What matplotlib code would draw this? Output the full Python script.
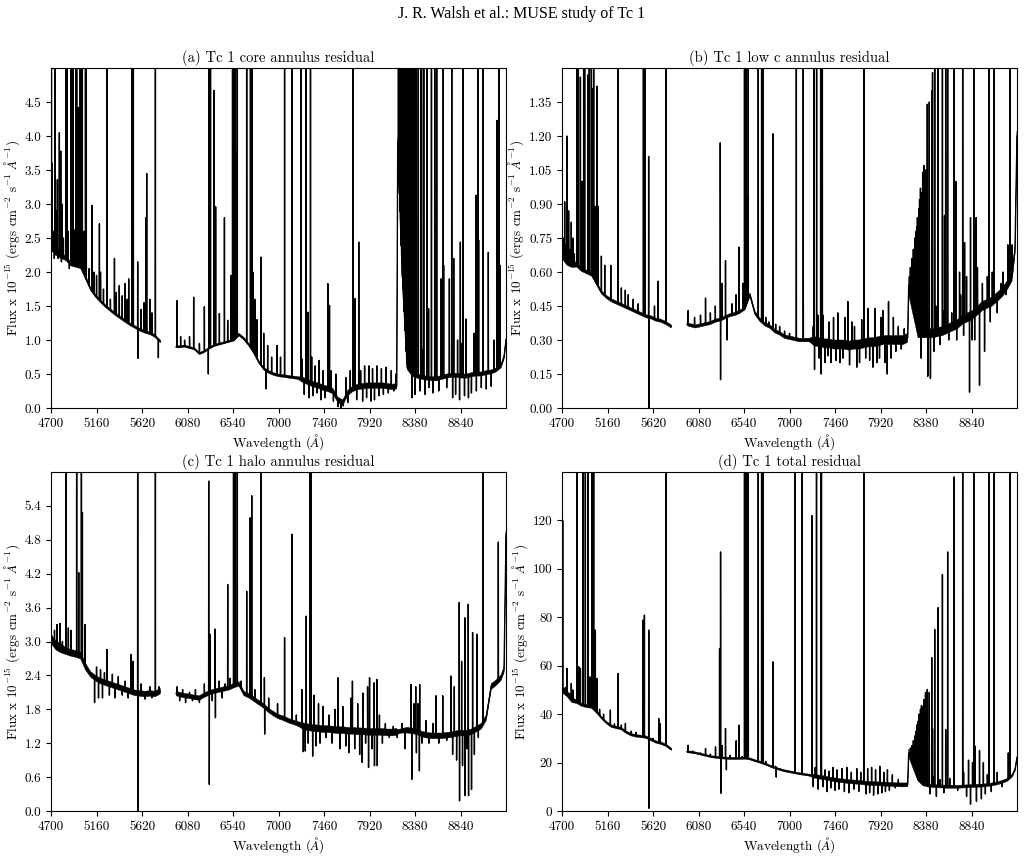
import numpy as np
import matplotlib
matplotlib.use("Agg")
import matplotlib.pyplot as plt

nan = np.nan

# ---------------- data ----------------
CONT_WAVE = [4700, 4750, 4800, 4850, 4900, 4950, 5000, 5050, 5100, 5150, 5200, 5250,
             5300, 5350, 5400, 5450, 5500, 5550, 5600, 5650, 5700, 5750, 5805,
             5885,
             5965, 6000, 6050, 6100, 6150, 6200, 6250, 6300, 6350, 6400, 6450, 6500,
             6550, 6600, 6650, 6700, 6750, 6800, 6850, 6900, 6950, 7000, 7050, 7100,
             7150, 7200, 7250, 7300, 7350, 7400, 7450, 7500, 7550, 7600, 7650, 7700,
             7750, 7800, 7850, 7900, 7950, 8000, 8050, 8100, 8150, 8195, 8205, 8250,
             8300, 8350, 8400, 8450, 8500, 8550, 8600, 8650, 8700, 8750, 8800, 8850,
             8900, 8950, 9000, 9050, 9100, 9150, 9200, 9250, 9280, 9300]

CONT_A = [2.45, 2.30, 2.25, 2.20, 2.12, 2.10, 2.08, 1.92, 1.75, 1.65, 1.57, 1.50,
          1.44, 1.38, 1.33, 1.28, 1.23, 1.19, 1.15, 1.12, 1.10, 1.06, 0.98,
          nan,
          0.90, 0.90, 0.91, 0.89, 0.87, 0.80, 0.83, 0.88, 0.92, 0.94, 0.96, 0.98,
          1.00, 1.08, 1.02, 0.93, 0.82, 0.68, 0.58, 0.53, 0.50, 0.48, 0.47, 0.46,
          0.45, 0.44, 0.41, 0.38, 0.35, 0.33, 0.30, 0.28, 0.25, 0.12, 0.08, 0.22,
          0.28, 0.31, 0.32, 0.33, 0.33, 0.33, 0.33, 0.32, 0.31, 0.32, 3.90, 2.00,
          0.60, 0.50, 0.47, 0.45, 0.44, 0.43, 0.43, 0.45, 0.47, 0.48, 0.48, 0.47,
          0.47, 0.49, 0.50, 0.50, 0.52, 0.53, 0.56, 0.62, 0.75, 1.00]

CONT_B = [0.68, 0.65, 0.64, 0.63, 0.61, 0.60, 0.59, 0.55, 0.51, 0.49, 0.475, 0.465,
          0.455, 0.445, 0.435, 0.425, 0.415, 0.405, 0.40, 0.39, 0.385, 0.375, 0.36,
          nan,
          0.37, 0.365, 0.36, 0.365, 0.37, 0.375, 0.385, 0.39, 0.40, 0.41, 0.415, 0.425,
          0.44, 0.50, 0.42, 0.39, 0.37, 0.36, 0.34, 0.33, 0.315, 0.31, 0.305, 0.30,
          0.30, 0.30, 0.295, 0.29, 0.285, 0.285, 0.28, 0.28, 0.28, 0.275, 0.28, 0.28,
          0.285, 0.29, 0.29, 0.295, 0.30, 0.30, 0.30, 0.30, 0.30, 0.31, 0.54, 0.45,
          0.33, 0.33, 0.33, 0.33, 0.335, 0.34, 0.35, 0.36, 0.37, 0.39, 0.40, 0.41,
          0.43, 0.45, 0.46, 0.47, 0.49, 0.51, 0.54, 0.58, 0.70, 1.20]

CONT_C = [3.05, 2.93, 2.88, 2.83, 2.80, 2.78, 2.75, 2.55, 2.42, 2.35, 2.30, 2.27,
          2.24, 2.21, 2.18, 2.15, 2.12, 2.09, 2.08, 2.07, 2.08, 2.07, 2.12,
          nan,
          2.08, 2.06, 2.04, 2.03, 2.01, 2.00, 2.05, 2.09, 2.12, 2.14, 2.16, 2.18,
          2.22, 2.25, 2.08, 2.04, 1.98, 1.92, 1.86, 1.78, 1.72, 1.67, 1.64, 1.60,
          1.57, 1.54, 1.50, 1.48, 1.47, 1.46, 1.45, 1.45, 1.44, 1.43, 1.43, 1.42,
          1.42, 1.41, 1.41, 1.40, 1.40, 1.40, 1.40, 1.39, 1.39, 1.40, 1.40, 1.42,
          1.43, 1.42, 1.40, 1.36, 1.34, 1.33, 1.33, 1.33, 1.34, 1.35, 1.37, 1.38,
          1.38, 1.40, 1.45, 1.50, 1.65, 2.20, 2.27, 2.36, 2.50, 4.90]

CONT_D = [50.0, 48.5, 46.0, 45.0, 43.8, 43.3, 43.0, 41.0, 38.5, 36.5, 35.0, 34.5,
          34.0, 32.5, 31.5, 31.0, 30.8, 30.5, 29.5, 28.5, 28.0, 27.2, 25.5,
          nan,
          24.5, 24.3, 24.0, 23.5, 23.0, 22.5, 22.2, 22.0, 21.8, 21.7, 21.7, 21.7,
          21.8, 21.5, 20.8, 20.2, 19.5, 18.6, 17.8, 17.2, 16.6, 16.2, 15.8, 15.4,
          15.1, 14.8, 14.4, 14.0, 13.7, 13.3, 12.9, 12.6, 12.4, 12.1, 12.0, 11.8,
          11.6, 11.4, 11.3, 11.2, 11.1, 11.0, 10.9, 10.8, 10.8, 10.8, 24.0, 19.0,
          13.0, 11.0, 10.5, 10.3, 10.2, 10.1, 10.0, 10.0, 10.0, 10.1, 10.2, 10.3,
          10.4, 10.5, 10.7, 11.0, 11.4, 12.0, 12.8, 14.5, 17.0, 22.0]

# half-width of the noise band around the continuum, per wavelength segment
NOISE_EDGES = [4700, 4850, 5100, 5806, 5964, 6600, 7250, 8200, 8300, 9301]
NOISE_A = [0.05, 0.03, 0.02, nan, 0.015, 0.02, 0.04, 0.08, 0.03]
NOISE_B = [0.02, 0.008, 0.007, nan, 0.007, 0.008, 0.02, 0.04, 0.02]
NOISE_C = [0.08, 0.06, 0.05, nan, 0.04, 0.04, 0.06, 0.04, 0.05]
NOISE_D = [1.2, 0.6, 0.5, nan, 0.4, 0.4, 0.8, 1.5, 0.6]

# emission lines / sky residuals: (wavelength, flux at the extreme of the feature)
FEAT_A = [(4704, 9), (4712, 3.6), (4720, 2.3), (4727, 2.6), (4733, 2.2), (4740, 9),
          (4748, 2.25), (4756, 2.9), (4764, 3.36), (4772, 2.2), (4784, 4.05), (4791, 2.6),
          (4798, 3.78), (4805, 2.15), (4811, 3.0), (4825, 2.5), (4850, 9), (4861, 9),
          (4872, 2.6), (4885, 2.05), (4902, 9), (4922, 9), (4935, 2.62), (4955, 9),
          (4959, 9), (4977, 4.42), (4995, 9), (5007, 9), (5016, 9), (5030, 2.6), (5048, 9),
          (5056, 9), (5085, 2.05), (5115, 2.98), (5135, 2.0), (5160, 1.95), (5189, 2.71),
          (5200, 2.0), (5230, 1.75), (5266, 9), (5300, 1.6), (5341, 2.2), (5360, 1.7),
          (5390, 1.8), (5420, 1.65), (5448, 1.83), (5470, 1.6), (5485, 1.9), (5518, 9),
          (5532, 9), (5576, 2.15), (5578, 0.73), (5610, 1.45), (5640, 1.55), (5660, 2.8),
          (5667, 3.45), (5700, 1.6), (5720, 1.4), (5755, 9), (5785, 0.74),
          (5974, 1.58), (6010, 1.05), (6050, 1.0), (6100, 1.05), (6142, 1.63), (6200, 0.95),
          (6250, 1.49), (6290, 0.50), (6296, 9), (6300, 9), (6312, 9), (6347, 4.67),
          (6364, 2.96), (6402, 1.39), (6453, 2.8), (6486, 1.29), (6520, 1.95), (6535, 9),
          (6548, 9), (6563, 9), (6572, 3.74), (6583, 9), (6678, 9), (6716, 9), (6731, 9),
          (6740, 2.0), (6760, 1.6), (6783, 1.3), (6823, 2.22), (6850, 1.1), (6873, 0.28),
          (6890, 0.92), (6930, 0.75), (6985, 0.92), (7020, 0.75),
          (7061, 9), (7135, 9), (7229, 9), (7240, 0.72), (7260, 0.20), (7279, 9),
          (7296, 1.41), (7310, 0.15), (7323, 9), (7335, 0.75), (7350, 0.18), (7370, 0.62),
          (7390, 0.22), (7410, 0.70), (7430, 0.12), (7450, 0.55), (7470, 0.15), (7498, 1.83),
          (7515, 1.51), (7530, 0.55), (7555, 0.10), (7580, 0.50), (7600, 0.02), (7630, 0.0),
          (7655, 0.03), (7680, 0.45), (7700, 0.08), (7725, 0.55), (7751, 9), (7774, 1.61),
          (7790, 0.12), (7811, 2.44), (7830, 0.55), (7850, 0.10), (7870, 0.62), (7890, 0.15),
          (7913, 0.62), (7935, 0.10), (7950, 0.58), (7970, 0.12), (7993, 0.62), (8015, 0.18),
          (8040, 0.58), (8060, 0.20), (8085, 0.60), (8110, 0.22), (8140, 0.55), (8165, 0.25),
          (8185, 0.50),
          (8212, 9), (8218, 9), (8224, 9), (8230, 9), (8236, 9), (8242, 9), (8248, 9),
          (8254, 9), (8260, 9), (8266, 9), (8272, 9), (8277, 9), (8282, 9), (8287, 9),
          (8293, 9), (8299, 9), (8307, 9), (8315, 9), (8324, 9), (8334, 9), (8346, 9),
          (8359, 9), (8375, 9), (8393, 9), (8413, 9), (8438, 9), (8446, 9), (8468, 9),
          (8503, 9), (8517, 1.46), (8546, 9), (8579, 9), (8585, 1.31), (8599, 9),
          (8642, 1.9), (8665, 9), (8669, 2.1), (8727, 1.9), (8751, 9), (8771, 2.2),
          (8838, 2.44), (8863, 9), (8895, 1.31), (8996, 3.13), (9015, 9), (9023, 2.47),
          (9069, 9), (9121, 2.29), (9208, 4.23), (9229, 9), (9240, 2.1),
          (8350, 0.15), (8380, 0.20), (8430, 0.25), (8455, 0.85), (8480, 0.20), (8520, 0.30),
          (8560, 0.22), (8620, 0.25), (8650, 0.90), (8700, 0.30), (8760, 0.15), (8790, 0.20),
          (8810, 1.0), (8830, 0.12), (8850, 0.95), (8880, 0.18), (8920, 0.15), (8950, 0.22),
          (8975, 1.1), (9000, 0.25), (9050, 0.30), (9100, 0.28), (9150, 0.32), (9180, 1.0)]

FEAT_B = [(4700, 2.5), (4712, 0.75), (4727, 0.91), (4740, 0.72), (4751, 1.20), (4767, 0.87),
          (4780, 0.70), (4794, 0.82), (4810, 0.75), (4825, 0.68),
          (4852, 2.5), (4865, 2.5), (4886, 1.46), (4902, 1.0), (4919, 2.5), (4929, 2.5),
          (4963, 1.47), (4976, 2.5), (4997, 2.5), (5010, 1.41), (5020, 2.5), (5037, 0.89),
          (5054, 1.42), (5064, 0.89), (5098, 0.67), (5132, 0.63), (5193, 0.63), (5267, 2.5),
          (5300, 0.53), (5340, 0.52), (5370, 0.50), (5420, 0.48), (5470, 0.46), (5523, 2.5),
          (5537, 2.5), (5576, 1.11), (5578, 0.0), (5635, 0.45), (5672, 0.56), (5753, 2.5),
          (5975, 0.43), (6040, 0.40), (6100, 0.41), (6151, 0.485), (6200, 0.42), (6250, 0.45),
          (6300, 1.17), (6303, 0.125), (6320, 0.55), (6353, 0.65), (6370, 0.30), (6420, 0.46),
          (6460, 0.50), (6488, 0.71), (6530, 0.55), (6545, 2.5), (6563, 2.5), (6572, 0.93),
          (6583, 2.5), (6684, 2.5), (6718, 2.5), (6731, 2.5), (6760, 0.40), (6790, 0.38),
          (6832, 1.21), (6860, 0.37), (6900, 0.36), (6950, 0.34), (7000, 0.33), (7069, 2.5),
          (7139, 2.5), (7247, 2.5), (7274, 2.5), (7315, 2.5), (7332, 2.5), (7753, 2.5),
          (7240, 0.36), (7253, 0.17), (7286, 0.41), (7300, 0.22), (7320, 0.15), (7337, 0.41),
          (7360, 0.20), (7388, 0.23), (7400, 0.38), (7420, 0.20), (7445, 0.40), (7470, 0.21),
          (7489, 0.42), (7510, 0.20), (7539, 0.22), (7560, 0.40), (7590, 0.47), (7607, 0.19),
          (7630, 0.38), (7657, 0.36), (7680, 0.18), (7708, 0.20), (7730, 0.39), (7770, 0.22),
          (7792, 0.44), (7810, 0.21), (7843, 0.18), (7866, 0.44), (7885, 0.20), (7910, 0.22),
          (7925, 0.40), (7944, 0.43), (7965, 0.20), (7988, 0.15), (8001, 0.47), (8025, 0.22),
          (8050, 0.40), (8075, 0.25), (8100, 0.36), (8130, 0.26), (8160, 0.35),
          (8215, 0.58), (8222, 0.62), (8230, 0.60), (8238, 0.66), (8245, 0.64), (8252, 0.70),
          (8260, 0.68), (8266, 0.75), (8272, 0.72), (8277, 0.78), (8282, 0.75), (8287, 0.80),
          (8293, 0.84), (8299, 0.82), (8307, 0.88), (8315, 0.92), (8324, 0.97), (8334, 0.95),
          (8346, 1.04), (8359, 1.07), (8375, 1.05), (8393, 1.34), (8413, 1.35), (8438, 1.40),
          (8446, 1.48), (8468, 2.5), (8503, 2.5), (8546, 2.5), (8579, 2.5), (8599, 2.5),
          (8665, 2.5), (8751, 2.5), (8863, 2.5), (9015, 2.5), (9069, 2.5), (9229, 2.5),
          (8567, 0.85), (8685, 1.0), (8719, 0.6), (8770, 0.73), (9140, 0.55), (9207, 0.72),
          (8330, 0.22), (8398, 0.14), (8425, 0.13), (8460, 0.25), (8480, 0.45), (8520, 0.28),
          (8560, 0.43), (8610, 0.30), (8640, 0.42), (8690, 0.30), (8730, 0.50), (8760, 0.32),
          (8790, 0.58), (8820, 0.07), (8830, 0.84), (8845, 0.30), (8872, 0.30), (8887, 0.84),
          (8900, 0.62), (8921, 0.10), (8950, 0.55), (8972, 0.25), (9000, 0.58), (9030, 0.38),
          (9050, 0.60), (9100, 0.42), (9160, 0.60), (9190, 0.50), (9250, 0.72)]

FEAT_C = [(4700, 3.39), (4735, 3.20), (4760, 3.30), (4791, 3.32), (4815, 3.0), (4852, 9),
          (4875, 3.24), (4900, 3.2), (4959, 9), (4980, 4.22), (5007, 9), (5017, 5.28),
          (5044, 3.30), (5140, 1.92), (5160, 2.55), (5180, 2.0), (5200, 2.5), (5220, 2.0),
          (5240, 2.45), (5266, 2.86), (5290, 2.05), (5320, 2.42), (5345, 2.0), (5380, 2.38),
          (5420, 2.05), (5450, 2.3), (5480, 2.0), (5509, 2.77), (5529, 2.65), (5576, 9),
          (5578, 0.0), (5610, 2.25), (5650, 1.98), (5700, 2.2), (5720, 2.0), (5755, 9),
          (5790, 2.2),
          (5975, 2.2), (6000, 1.95), (6030, 2.15), (6060, 1.92), (6100, 2.1), (6130, 1.95),
          (6160, 2.15), (6200, 1.92), (6250, 2.25), (6294, 5.84), (6300, 0.47), (6307, 3.13),
          (6330, 1.95), (6358, 3.22), (6362, 1.65), (6400, 2.3), (6430, 2.0), (6460, 2.25),
          (6486, 4.01), (6510, 2.35), (6545, 9), (6556, 9), (6563, 9), (6583, 9),
          (6620, 2.3), (6678, 3.89), (6712, 5.19), (6729, 5.58), (6760, 2.15), (6790, 1.9),
          (6823, 9), (6857, 2.36), (6860, 1.36), (6900, 2.0), (6950, 1.75), (6990, 1.9),
          (7030, 1.65),
          (7061, 3.07), (7090, 1.6), (7135, 4.90), (7180, 1.7), (7205, 1.5), (7236, 2.15),
          (7250, 1.05), (7270, 1.06), (7280, 3.45), (7300, 1.2), (7320, 9), (7330, 9),
          (7345, 0.97), (7357, 2.05), (7380, 1.15), (7404, 1.9), (7420, 1.2), (7450, 1.85),
          (7480, 1.3), (7510, 1.7), (7540, 1.2), (7570, 1.8), (7600, 2.36), (7620, 1.1),
          (7650, 1.85), (7680, 1.15), (7710, 1.03), (7730, 2.0), (7747, 2.30), (7770, 1.1),
          (7800, 1.9), (7820, 1.0), (7845, 0.86), (7852, 2.09), (7880, 1.2), (7900, 2.2),
          (7910, 0.77), (7920, 2.36), (7945, 1.1), (7967, 2.27), (7970, 0.80), (7994, 2.33),
          (7998, 0.80), (8020, 1.7), (8050, 1.2), (8080, 1.55), (8120, 1.3), (8160, 1.5),
          (8200, 1.3), (8250, 1.55), (8280, 1.1), (8340, 2.24), (8347, 0.56), (8370, 1.9),
          (8387, 2.2), (8394, 1.03), (8410, 1.9), (8424, 0.71), (8427, 2.24), (8450, 1.2),
          (8490, 1.6), (8520, 1.2), (8560, 1.55), (8592, 2.04), (8620, 1.2), (8660, 2.04),
          (8700, 1.25), (8743, 2.39), (8760, 1.0), (8777, 2.2), (8800, 0.9), (8827, 3.69),
          (8830, 0.18), (8851, 2.65), (8860, 0.8), (8884, 3.42), (8887, 0.27), (8905, 1.1),
          (8918, 3.66), (8921, 0.27), (8940, 1.4), (8951, 0.38), (8962, 3.16), (8980, 1.0),
          (9006, 3.13), (9020, 1.3), (9069, 9), (9222, 4.76)]

FEAT_D = [(4707, 120), (4734, 51), (4750, 58.9), (4774, 48.5), (4794, 52.7), (4810, 50),
          (4852, 250), (4869, 59.6), (4886, 58.9), (4913, 250), (4936, 250), (4963, 250),
          (4983, 55.4), (5004, 250), (5020, 250), (5037, 74.7), (5054, 54.7), (5080, 42),
          (5120, 40), (5189, 41.7), (5230, 36), (5267, 56.8), (5300, 35.5), (5341, 36.2),
          (5400, 33), (5450, 32.5), (5517, 78.8), (5533, 80.9), (5577, 74.7), (5579, 1.1),
          (5620, 30), (5678, 38.2), (5694, 36), (5753, 250), (5790, 26),
          (5975, 27.2), (6020, 24.8), (6100, 24), (6151, 25.8), (6200, 23.5), (6252, 26.5),
          (6293, 67), (6303, 107), (6306, 7.3), (6320, 27), (6353, 34.1), (6362, 17),
          (6400, 23), (6461, 29), (6488, 35.5), (6520, 22.5), (6545, 250), (6550, 250),
          (6563, 250), (6572, 250), (6583, 250), (6684, 250), (6718, 250), (6731, 250),
          (6760, 20.5), (6832, 61.6), (6860, 18.5), (6866, 14), (6900, 17.5),
          (7057, 250), (7128, 250), (7226, 122), (7240, 10), (7260, 18), (7273, 250),
          (7290, 9), (7317, 250), (7323, 250), (7340, 10), (7360, 17), (7380, 8),
          (7400, 16.5), (7420, 9.5), (7440, 18), (7460, 8.5), (7480, 17), (7500, 9),
          (7530, 17.5), (7555, 8), (7580, 18), (7600, 7.5), (7625, 16), (7650, 9),
          (7680, 17.5), (7700, 8), (7720, 16), (7751, 250), (7775, 7), (7790, 17.5),
          (7810, 7.5), (7830, 18), (7850, 6.5), (7870, 17), (7893, 7), (7913, 18.5),
          (7935, 7.5), (7955, 16), (7970, 8), (7990, 17), (8010, 8.5), (8040, 15),
          (8070, 9.5), (8100, 13), (8140, 10),
          (8215, 24), (8222, 26), (8230, 23), (8238, 27), (8245, 25), (8252, 29),
          (8260, 27), (8266, 31), (8272, 30), (8277, 33), (8282, 31), (8287, 35),
          (8293, 36), (8299, 37), (8307, 40), (8315, 38), (8324, 42), (8334, 43.6),
          (8346, 43), (8359, 46), (8375, 48.9), (8393, 50.2), (8413, 49), (8438, 63.3),
          (8446, 34), (8468, 75), (8503, 84), (8546, 97.7), (8579, 33.7), (8599, 107),
          (8665, 138), (8751, 250), (8863, 250), (9015, 250), (9069, 250), (9229, 250),
          (8420, 7), (8455, 14), (8485, 6), (8520, 13), (8560, 7.5), (8620, 13.5),
          (8700, 8.5), (8760, 16), (8790, 6), (8810, 21), (8830, 2.8), (8850, 20),
          (8877, 26.8), (8890, 4), (8921, 25), (8940, 5), (8960, 20), (8980, 7),
          (9000, 15), (9040, 8), (9100, 16), (9150, 10), (9212, 24)]

TITLES = ["(a) Tc 1 core annulus residual", "(b) Tc 1 low c annulus residual",
          "(c) Tc 1 halo annulus residual", "(d) Tc 1 total residual"]
XTICKS = [4700, 5160, 5620, 6080, 6540, 7000, 7460, 7920, 8380, 8840]
YTICKS_A = [0.0, 0.5, 1.0, 1.5, 2.0, 2.5, 3.0, 3.5, 4.0, 4.5]
YTICKS_B = [0.00, 0.15, 0.30, 0.45, 0.60, 0.75, 0.90, 1.05, 1.20, 1.35]
YTICKS_C = [0.0, 0.6, 1.2, 1.8, 2.4, 3.0, 3.6, 4.2, 4.8, 5.4]
YTICKS_D = [0, 20, 40, 60, 80, 100, 120]
YMAX = [5.0, 1.5, 6.0, 140.0]
YFMT = ["{:.1f}", "{:.2f}", "{:.1f}", "{:.0f}"]

assert len(CONT_A) == len(CONT_B) == len(CONT_C) == len(CONT_D) == len(CONT_WAVE)

# ---------------- style ----------------
plt.rcParams.update({
    "font.family": "serif",
    "font.serif": ["cmr10", "DejaVu Serif"],
    "mathtext.fontset": "cm",
    "axes.formatter.use_mathtext": True,
    "axes.unicode_minus": False,
    "axes.linewidth": 0.8,
})


def spectrum(cont, feats, half=1.2):
    cw = np.asarray(CONT_WAVE, float)
    cf = np.asarray(cont, float)
    ok = np.isfinite(cf)
    fw = np.array([f[0] for f in feats], float)
    ff = np.array([f[1] for f in feats], float)
    lw_, rw_ = fw - half, fw + half
    x = np.concatenate([cw, lw_, fw, rw_])
    y = np.concatenate([cf, np.interp(lw_, cw[ok], cf[ok]), ff,
                        np.interp(rw_, cw[ok], cf[ok])])
    o = np.argsort(x, kind="stable")
    return x[o], y[o]


def band(noise):
    cw = np.asarray(CONT_WAVE, float)
    seg = np.searchsorted(NOISE_EDGES, cw, side="right") - 1
    seg = np.clip(seg, 0, len(noise) - 1)
    return np.asarray(noise, float)[seg]


fig = plt.figure(figsize=(10.25, 8.57), dpi=100)
positions = [[0.0498, 0.5239, 0.4439, 0.3967], [0.5483, 0.5239, 0.4439, 0.3967],
             [0.0498, 0.0537, 0.4439, 0.3955], [0.5483, 0.0537, 0.4439, 0.3955]]
conts = [CONT_A, CONT_B, CONT_C, CONT_D]
noises = [NOISE_A, NOISE_B, NOISE_C, NOISE_D]
feats = [FEAT_A, FEAT_B, FEAT_C, FEAT_D]
yticks = [YTICKS_A, YTICKS_B, YTICKS_C, YTICKS_D]

ylabel = r"Flux x $10^{-15}$ (ergs cm$^{-2}$ s$^{-1}$ $\AA^{-1}$)"
for i in range(4):
    ax = fig.add_axes(positions[i])
    c = np.asarray(conts[i], float)
    amp = band(noises[i])
    ax.fill_between(CONT_WAVE, c - amp, c + amp, color="black", lw=0.3,
                    edgecolor="black")
    x, y = spectrum(conts[i], feats[i])
    ax.plot(x, y, color="black", lw=1.0)
    ax.set_xlim(4700, 9300)
    ax.set_ylim(0, YMAX[i])
    ax.set_xticks(XTICKS)
    ax.set_xticklabels([str(t) for t in XTICKS])
    ax.set_yticks(yticks[i])
    ax.set_yticklabels([YFMT[i].format(t) for t in yticks[i]])
    ax.tick_params(labelsize=9.5, length=3.5, width=0.8)
    ax.set_title(TITLES[i], fontsize=10.5, pad=4)
    ax.set_xlabel(r"Wavelength ($\AA$)", fontsize=9.5, labelpad=2)
    ax.set_ylabel(ylabel, fontsize=9.5, labelpad=2)

fig.text(0.509, 1 - 14 / 857, "J. R. Walsh et al.: MUSE study of Tc 1",
         family="Liberation Serif", fontsize=11.5, ha="center", va="center")

fig.savefig("out.png", dpi=100)
